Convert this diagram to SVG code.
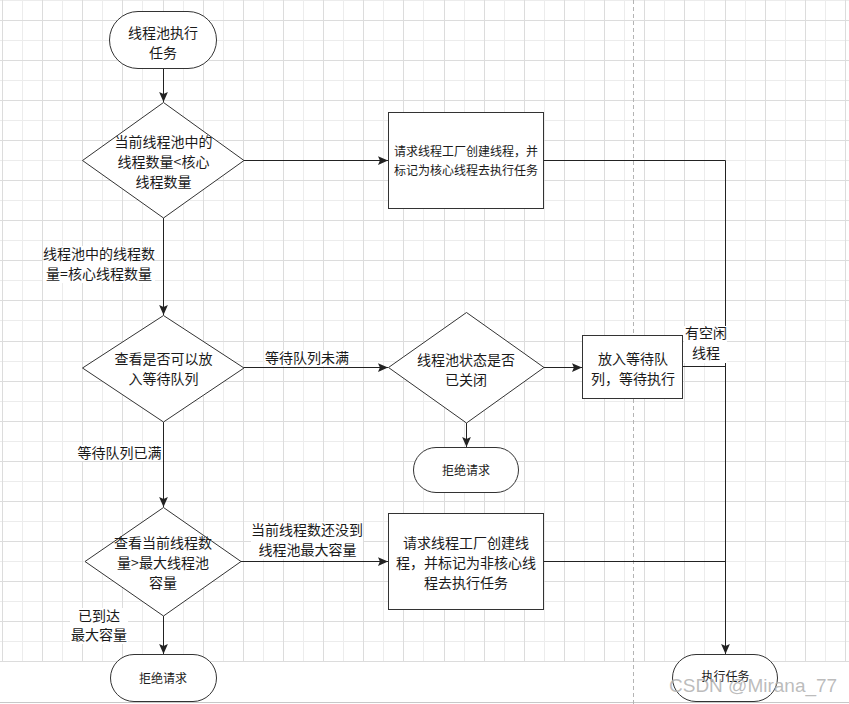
<svg xmlns="http://www.w3.org/2000/svg" width="849" height="704" viewBox="0 0 849 704">
<style>
.gd{stroke:#dcdcdc;stroke-width:1;fill:none}
.gl{stroke:#ececec;stroke-width:1;fill:none}
.shape{fill:#fff;stroke:#333;stroke-width:1}
.edge{fill:none;stroke:#222;stroke-width:1}
.t14{font-family:"Noto Sans CJK SC","Microsoft YaHei",sans-serif;font-size:14px;fill:#1a1a1a;text-anchor:middle}
.t12{font-family:"Noto Sans CJK SC","Microsoft YaHei",sans-serif;font-size:12px;fill:#1a1a1a;text-anchor:middle}
.lbg{fill:#fff}
</style>
<defs>
<marker id="arrow" markerUnits="userSpaceOnUse" markerWidth="10" markerHeight="10" viewBox="0 0 8 7" refX="8" refY="3.5" orient="auto">
<path d="M0,0 L8,3.5 L0,7 L1.5,3.5 z" fill="#222"/>
</marker>
</defs>
<rect x="0" y="0" width="849" height="704" fill="#fff"/>
<g id="grid">
<path class="gl" d="M0 0.5H849M0 40.5H849M0 80.5H849M0 120.5H849M0 160.5H849M0 200.5H849M0 240.5H849M0 280.5H849M0 320.5H849M0 361.5H849M0 401.5H849M0 441.5H849M0 481.5H849M0 521.5H849M0 561.5H849M0 601.5H849M0 641.5H849"/>
<path class="gl" d="M22.5 0V662M62.5 0V662M102.5 0V662M142.5 0V662M183.5 0V662M223.5 0V662M263.5 0V662M303.5 0V662M343.5 0V662M383.5 0V662M423.5 0V662M464.5 0V662M504.5 0V662M544.5 0V662M584.5 0V662M624.5 0V662M664.5 0V662M704.5 0V662M745.5 0V662M785.5 0V662M825.5 0V662"/>
<path class="gd" d="M0 20.5H849M0 60.5H849M0 100.5H849M0 140.5H849M0 180.5H849M0 220.5H849M0 260.5H849M0 300.5H849M0 341.5H849M0 381.5H849M0 421.5H849M0 461.5H849M0 501.5H849M0 541.5H849M0 581.5H849M0 621.5H849M0 661.5H849"/>
<path class="gd" d="M2.5 0V662M42.5 0V662M82.5 0V662M122.5 0V662M163.5 0V662M203.5 0V662M243.5 0V662M283.5 0V662M323.5 0V662M363.5 0V662M403.5 0V662M444.5 0V662M484.5 0V662M524.5 0V662M564.5 0V662M604.5 0V662M644.5 0V662M684.5 0V662M725.5 0V662M765.5 0V662M805.5 0V662M845.5 0V662"/>
<path d="M0 702.5H849" stroke="#c8c8c8" stroke-width="1"/>
<path d="M633.5 0V704" stroke="#b4b4b4" stroke-width="1" stroke-dasharray="4 3"/>
</g>
<g id="connectors">
<path class="edge" d="M163.5 69V102" marker-end="url(#arrow)"/>
<path class="edge" d="M244 160.5H388" marker-end="url(#arrow)"/>
<path class="edge" d="M163.5 218V315" marker-end="url(#arrow)"/>
<path class="edge" d="M244 367.5H388" marker-end="url(#arrow)"/>
<path class="edge" d="M544 367.5H582" marker-end="url(#arrow)"/>
<path class="edge" d="M466.5 423V447" marker-end="url(#arrow)"/>
<path class="edge" d="M163.5 422V507" marker-end="url(#arrow)"/>
<path class="edge" d="M241 561.5H388" marker-end="url(#arrow)"/>
<path class="edge" d="M163.5 616V654" marker-end="url(#arrow)"/>
<path class="edge" d="M544 160.5H725.5V654" marker-end="url(#arrow)"/>
<path class="edge" d="M683 366.5H725.5"/>
<path class="edge" d="M544 561.5H725.5"/>
<rect class="lbg" x="43" y="246" width="112" height="37"/>
<text class="t14" x="99" y="259">线程池中的线程数</text>
<text class="t14" x="99" y="279">量=核心线程数量</text>
<rect class="lbg" x="265" y="350" width="85" height="16"/>
<text class="t14" x="307" y="362.5">等待队列未满</text>
<rect class="lbg" x="77" y="445" width="85" height="16"/>
<text class="t14" x="119.5" y="457.5">等待队列已满</text>
<rect class="lbg" x="251" y="522" width="112" height="37"/>
<text class="t14" x="307" y="535">当前线程数还没到</text>
<text class="t14" x="307.5" y="555">线程池最大容量</text>
<rect class="lbg" x="70" y="608" width="58" height="36"/>
<text class="t14" x="99" y="621">已到达</text>
<text class="t14" x="99" y="640">最大容量</text>
<rect class="lbg" x="684" y="326" width="43" height="37"/>
<text class="t14" x="706" y="338">有空闲</text>
<text class="t14" x="706" y="358">线程</text>
</g>
<g id="start">
<rect class="shape" x="109.5" y="11.5" width="107" height="57" rx="28.5" ry="28.5"/>
<text class="t14" x="163" y="37.5">线程池执行</text>
<text class="t14" x="163" y="57.5">任务</text>
</g>
<g id="check-core">
<polygon class="shape" points="163.5,102.5 244,160.5 163.5,218 82.5,160.5"/>
<text class="t14" x="163.5" y="146.5">当前线程池中的</text>
<text class="t14" x="163.5" y="166.5">线程数量&lt;核心</text>
<text class="t14" x="163.5" y="186.5">线程数量</text>
</g>
<g id="create-core">
<rect class="shape" x="388.5" y="112.5" width="155" height="96"/>
<text class="t12" x="466" y="156">请求线程工厂创建线程，并</text>
<text class="t12" x="466" y="174.5">标记为核心线程去执行任务</text>
</g>
<g id="check-queue">
<polygon class="shape" points="163.5,315.5 244,368 163.5,422 82.5,368"/>
<text class="t14" x="163.5" y="364">查看是否可以放</text>
<text class="t14" x="163.5" y="384">入等待队列</text>
</g>
<g id="check-shutdown">
<polygon class="shape" points="466.5,312.5 544,367.5 466.5,423 388.5,367.5"/>
<text class="t14" x="466" y="365">线程池状态是否</text>
<text class="t14" x="466" y="385">已关闭</text>
</g>
<g id="enqueue">
<rect class="shape" x="582.5" y="335.5" width="100" height="63"/>
<text class="t14" x="633" y="364">放入等待队</text>
<text class="t14" x="633" y="384">列，等待执行</text>
</g>
<g id="reject-1">
<rect class="shape" x="413.5" y="447.5" width="105" height="45" rx="22.5" ry="22.5"/>
<text class="t12" x="466" y="475">拒绝请求</text>
</g>
<g id="check-max">
<polygon class="shape" points="163.5,507.5 241,561.5 163.5,616 85,561.5"/>
<text class="t14" x="163" y="548">查看当前线程数</text>
<text class="t14" x="163" y="568">量&gt;最大线程池</text>
<text class="t14" x="163" y="588">容量</text>
</g>
<g id="create-noncore">
<rect class="shape" x="388.5" y="513.5" width="155" height="96"/>
<text class="t14" x="466" y="548">请求线程工厂创建线</text>
<text class="t14" x="466" y="568">程，并标记为非核心线</text>
<text class="t14" x="466" y="588">程去执行任务</text>
</g>
<g id="reject-2">
<rect class="shape" x="110.5" y="654.5" width="106" height="47" rx="23.5" ry="23.5"/>
<text class="t12" x="163" y="682.5">拒绝请求</text>
</g>
<g id="execute">
<rect class="shape" x="672.5" y="654.5" width="105" height="47" rx="23.5" ry="23.5"/>
<text class="t12" x="725.5" y="681">执行任务</text>
</g>
<text x="669" y="692" font-family="Liberation Sans, Arial, sans-serif" font-size="19" fill="#b0b0b0" fill-opacity="0.85">CSDN @Mirana_77</text>
</svg>
